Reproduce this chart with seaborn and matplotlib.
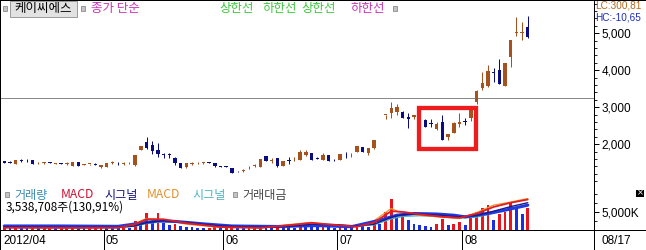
import matplotlib
matplotlib.use("Agg")
import matplotlib.pyplot as plt
import matplotlib.transforms as mtransforms
from matplotlib.patches import Rectangle
from matplotlib.lines import Line2D
import numpy as np
import pandas as pd
import seaborn as sns

# ---------------- data ----------------
opens = [1540, 1510, 1460, 1555, 1550, 1565, 1485, 1495, 1500, 1480,
         1495, 1475, 1405, 1515, 1440, 1460, 1470, 1385, 1390, 1495,
         1495, 1480, 1485, 1430, 1840, 2050, 1975, 1840, 1740, 1725,
         1630, 1495, 1380, 1465, 1485, 1495, 1515, 1500, 1410, 1405,
         1360, 1275, 1280, 1350, 1420, 1395, 1685, 1535, 1620, 1420,
         1565, 1590, 1575, 1710, 1760, 1615, 1575, 1710, 1585, 1575,
         1740, 1700, 1800, 1935, 1755, 1890, 2400, 2785, 2840, 2865,
         2880, 2730, 2740, 2760, 2660, 2580, 2400, 2610, 2190, 2310,
         2560, 2620, 2710, 3150, 3515, 3575, 3960, 4010, 3575, 4370,
         5000, 5020, 5160]
highs = [1550, 1555, 1575, 1610, 1590, 1570, 1510, 1520, 1525, 1500,
         1500, 1520, 1520, 1520, 1470, 1470, 1490, 1445, 1505, 1545,
         1530, 1510, 1510, 1720, 1960, 2190, 2080, 2035, 1770, 1760,
         1665, 1500, 1495, 1520, 1530, 1530, 1525, 1505, 1420, 1415,
         1365, 1280, 1330, 1400, 1460, 1600, 1690, 1620, 1625, 1560,
         1665, 1650, 1850, 1850, 1765, 1660, 1760, 1715, 1590, 1735,
         1800, 1760, 1960, 1940, 1910, 2120, 2420, 2800, 3150, 3080,
         2890, 2840, 2800, 2790, 2680, 2675, 2610, 2790, 2290, 2600,
         2840, 2700, 2960, 3470, 3960, 4140, 4050, 4300, 4190, 4820,
         5450, 5310, 5470]
lows = [1495, 1490, 1455, 1510, 1520, 1465, 1455, 1470, 1485, 1475,
        1470, 1440, 1400, 1420, 1430, 1430, 1440, 1350, 1385, 1470,
        1450, 1450, 1455, 1425, 1835, 1880, 1740, 1650, 1630, 1640,
        1450, 1355, 1370, 1430, 1470, 1480, 1490, 1395, 1380, 1375,
        1225, 1255, 1250, 1320, 1390, 1385, 1555, 1500, 1395, 1415,
        1460, 1540, 1570, 1690, 1570, 1590, 1570, 1545, 1560, 1570,
        1640, 1660, 1795, 1780, 1700, 1885, 2400, 2690, 2700, 2780,
        2700, 2450, 2680, 2650, 2460, 2475, 2380, 2115, 2115, 2300,
        2480, 2520, 2640, 3100, 3470, 3560, 3690, 3630, 3570, 4100,
        4930, 4820, 4880]
closes = [1500, 1490, 1565, 1540, 1535, 1470, 1490, 1500, 1490, 1490,
          1480, 1485, 1515, 1420, 1460, 1468, 1445, 1440, 1500, 1505,
          1485, 1490, 1495, 1715, 1950, 1900, 1810, 1740, 1715, 1710,
          1495, 1360, 1490, 1475, 1495, 1505, 1495, 1400, 1390, 1385,
          1230, 1265, 1290, 1365, 1435, 1590, 1560, 1585, 1400, 1550,
          1550, 1605, 1800, 1785, 1575, 1605, 1710, 1550, 1565, 1730,
          1725, 1715, 1955, 1785, 1905, 2115, 2420, 2800, 2975, 3015,
          2700, 2690, 2790, 2690, 2480, 2555, 2560, 2125, 2280, 2570,
          2600, 2600, 2950, 3430, 3650, 3980, 3940, 3630, 4190, 4820,
          5030, 5040, 4890]
volumes_k = [800, 500, 900, 700, 400, 600, 300, 400, 500, 300,
             400, 500, 800, 600, 300, 400, 500, 700,
             600, 500, 400, 500, 400, 2500, 2000, 4600, 2500, 4600,
             1800, 1200, 1500, 1000, 700, 600, 500, 400, 500, 600, 400,
             500, 900, 500, 400, 500, 600, 1200, 1000, 800, 1100,
             700, 600, 500, 1400, 900, 800, 600, 700, 600, 400,
             900, 600, 500, 1300, 900, 800, 2200, 1500, 5000, 8600,
             3600, 4000, 2650, 1700, 1200, 950, 750, 1700, 3100, 1200,
             1700, 2200,
             1200, 3600, 5000, 6000, 6900, 2650, 4500, 5000, 7900, 6400,
             4500, 6000]

# indicator lines in the volume pane (read at selected candles)
ind_idx_a = [0, 10, 20, 24, 27, 30, 35, 40, 48, 55, 61, 66, 69, 72, 76, 79, 81, 85, 88, 92]
vol_value_line = [1000, 1000, 900, 1800, 2450, 2300, 1600, 1000, 850, 1100,
                  800, 2640, 4060, 4540, 4400, 4060, 3580, 4540, 5480, 6900]
ind_idx_b = [0, 12, 20, 23, 25, 28, 32, 38, 45, 50, 54, 58, 62, 65, 68, 70,
             73, 77, 80, 83, 86, 89, 92]
macd1 = [500, 450, 500, 1500, 2900, 2900, 1800, 700, 450, 1200, 1900, 1300,
         800, 2000, 5200, 5000, 4300, 3600, 3300, 4500, 6400, 7600, 8500]
signal1 = [700, 600, 600, 1000, 2000, 2500, 2000, 1000, 600, 900, 1500, 1400,
           1000, 1500, 3500, 4200, 4400, 4000, 3600, 4000, 5200, 6500, 7600]
macd2 = [600, 500, 600, 1800, 3120, 2800, 1500, 600, 500, 1400, 2000, 1200,
         900, 2500, 5960, 4540, 4060, 3500, 3120, 4800, 6900, 7800, 8800]
signal2 = [600, 550, 550, 900, 1700, 2200, 1900, 1000, 550, 800, 1300, 1300,
           950, 1300, 3000, 3700, 3900, 3600, 3200, 3500, 4600, 5800, 7000]

month_labels = ["2012/04", "05", "06", "07", "08"]
month_start = [0, 18, 39, 59, 81]
last_date = "08/17"
price_ticks = [2000, 3000, 4000, 5000]
vol_ticks = [5000]
ref_line_price = 3245
box_candles = (72.85, 82.94)
box_prices = (1860, 2986)

# ---------------- figure ----------------
sns.set_style("white")
KR = ['Noto Sans CJK KR', 'DejaVu Sans']
NUM = ['Liberation Sans', 'DejaVu Sans']
plt.rcParams['font.family'] = KR
plt.rcParams['axes.linewidth'] = 0.72

W, H = 646, 250
fig = plt.figure(figsize=(W / 100, H / 100), dpi=100)
fig.patch.set_facecolor('white')

PR = 594       # right edge of plot area (px)
SEP = 186.5    # price / volume separator (px from top)
BAND = 229.5   # top of date band
n = len(opens)
idx = np.arange(n)
XL = (-0.756, 103.64)
LW = 0.72

UP, DN = '#A5521E', '#0C0C82'

ax = fig.add_axes([0, 1 - SEP / H, PR / W, SEP / H])
axv = fig.add_axes([0, 1 - BAND / H, PR / W, (BAND - SEP) / H])
axb = fig.add_axes([0, 0, PR / W, (H - BAND) / H])

# ---- candles ----
o = np.array(opens); c = np.array(closes)
hi = np.array(highs); lo = np.array(lows)
cols = [UP if cc >= oo else DN for oo, cc in zip(o, c)]
ax.vlines(idx, lo, hi, colors=cols, lw=LW, zorder=2)
body_bot = np.minimum(o, c)
body_h = np.maximum(np.abs(c - o), 22)
ax.bar(idx, body_h, bottom=body_bot, width=0.6, color=cols, linewidth=0, zorder=3)
ax.axhline(ref_line_price, color='#8A8A8A', lw=LW, zorder=1)
ax.add_patch(Rectangle((box_candles[0], box_prices[0]),
                       box_candles[1] - box_candles[0], box_prices[1] - box_prices[0],
                       fill=False, ec='#EE1C1C', lw=3.1, joinstyle='miter', zorder=6))
ax.set_xlim(XL)
ax.set_ylim(859, 5900)
ax.set_xticks([])
ax.yaxis.tick_right()
ax.set_yticks(price_ticks)
ax.set_yticklabels([f"{v:,}" for v in price_ticks])
ax.set_yticks(np.arange(1000, 5801, 200), minor=True)
ax.tick_params(axis='y', which='major', length=3.6, width=LW, pad=1.6,
               labelsize=8.5, direction='out', colors='black')
ax.tick_params(axis='y', which='minor', length=2.4, width=LW, direction='out')
for lbl in ax.get_yticklabels():
    lbl.set_family(NUM)
for s in ax.spines.values():
    s.set_color('black'); s.set_linewidth(LW); s.set_visible(True)
ax.set_facecolor('white')

# ---- volume pane ----
vdf = pd.DataFrame({'i': idx, 'v': volumes_k})
vdf['dir'] = ['up' if k == 0 or volumes_k[k] >= volumes_k[k - 1] else 'down' for k in range(n)]
sns.barplot(data=vdf, x='i', y='v', hue='dir', palette={'up': '#E8141E', 'down': '#1A2EE6'},
            native_scale=True, dodge=False, width=0.5, errorbar=None, legend=False,
            saturation=1, linewidth=0, ax=axv, zorder=2)
sns.lineplot(x=ind_idx_b, y=signal2, ax=axv, color='#48B8C0', lw=0.9, zorder=3)
sns.lineplot(x=ind_idx_b, y=macd2, ax=axv, color='#E8962C', lw=0.9, zorder=3)
sns.lineplot(x=ind_idx_a, y=vol_value_line, ax=axv, color='#2038E0', lw=2.2, zorder=4)
sns.lineplot(x=ind_idx_b, y=signal1, ax=axv, color='#1A1A88', lw=1.0, zorder=4)
sns.lineplot(x=ind_idx_b, y=macd1, ax=axv, color='#E01C24', lw=1.3, zorder=5)
axv.set_xlim(XL)
axv.set_ylim(0, 12200)
axv.set_xticks([])
axv.set_xlabel(''); axv.set_ylabel('')
axv.yaxis.tick_right()
axv.set_yticks(vol_ticks)
axv.set_yticklabels([f"{v:,}K" for v in vol_ticks])
axv.set_yticks([2500, 7500, 10000], minor=True)
axv.tick_params(axis='y', which='major', length=3.6, width=LW, pad=1.6,
                labelsize=8.5, direction='out', colors='black')
axv.tick_params(axis='y', which='minor', length=2.4, width=LW, direction='out')
for lbl in axv.get_yticklabels():
    lbl.set_family(NUM)
for k, s in axv.spines.items():
    s.set_color('black'); s.set_linewidth(LW)
axv.spines['top'].set_visible(False)
axv.set_facecolor('white')

# ---- date band ----
axb.set_xlim(XL)
axb.set_ylim(0, 1)
axb.axis('off')
for s, lab in zip(month_start, month_labels):
    xb = s - 0.5
    if s > 0:
        axb.vlines(xb, 0, 1, color='black', lw=LW)
    tr = mtransforms.offset_copy(axb.transData, fig=fig, x=2.0, y=0, units='dots')
    axb.text(xb, 0.42, lab, transform=tr, family=NUM, fontsize=8.5,
             ha='left', va='center', color='black')

# figure-level frame lines
def hline(y, x0, x1):
    fig.add_artist(Line2D([x0 / W, x1 / W], [1 - y / H, 1 - y / H],
                          transform=fig.transFigure, color='black', lw=LW))
def vline(x, y0, y1):
    fig.add_artist(Line2D([x / W, x / W], [1 - y0 / H, 1 - y1 / H],
                          transform=fig.transFigure, color='black', lw=LW))
hline(0.4, 0, W)
hline(BAND, 0, W)
vline(PR, 0, H)
vline(0.4, 0, H)

def T(x, y, s, color='black', size=9, family=KR, ha='left', va='center', **kw):
    fig.text(x / W, 1 - y / H, s, color=color, fontsize=size, family=family,
             ha=ha, va=va, **kw)

def square(x, y):
    fig.add_artist(Rectangle((x / W, 1 - (y + 5) / H), 4 / W, 5 / H,
                             transform=fig.transFigure, fc='#C4C4C4', ec='#7A7A7A', lw=0.5))

# top legend
square(3, 6)
fig.add_artist(Rectangle((10 / W, 1 - 16.5 / H), 67 / W, 15.5 / H, transform=fig.transFigure,
                         fc='#E2E2E2', ec='#9A9A9A', lw=0.7))
T(43.5, 8.6, "케이씨에스", ha='center')
square(81, 6)
T(91, 8.6, "종가 단순", color='#C832B4')
T(219, 8.6, "상한선", color='#3CC83C')
T(262, 8.6, "하한선", color='#3CC83C')
T(301, 8.6, "상한선", color='#3CC83C')
T(350, 8.6, "하한선", color='#C832B4')
square(393, 6)
T(595, 5.8, "LC:300,81", color='#B06A1E', family=NUM, size=7.2)
T(595, 17.2, "HC:-10,65", color='#1C2CC0', family=NUM, size=7.2)

# volume legend
square(5, 192)
T(14, 195, "거래량", color='#3C8CB0', size=8.7)
T(61, 195, "MACD", color='#D01030', size=8.7)
T(104, 195, "시그널", color='#10107E', size=8.7)
T(147, 195, "MACD", color='#E0902C', size=8.7)
T(192, 195, "시그널", color='#48B4C0', size=8.7)
square(233, 192)
T(242, 195, "거래대금", color='#444444', size=8.7)
T(6, 207.5, "3,538,708주(130,91%)", color='black', size=8.5)

# close icon
fig.add_artist(Rectangle((636 / W, 1 - 197 / H), 8 / W, 7.5 / H, transform=fig.transFigure,
                         fc='black', ec='black', lw=0))
T(640, 193.2, "×", color='white', size=6, family=['DejaVu Sans'], ha='center')

# last date
T(601, 241, last_date, family=NUM, size=8.5)

fig.savefig("out.png", dpi=100, facecolor='white')
